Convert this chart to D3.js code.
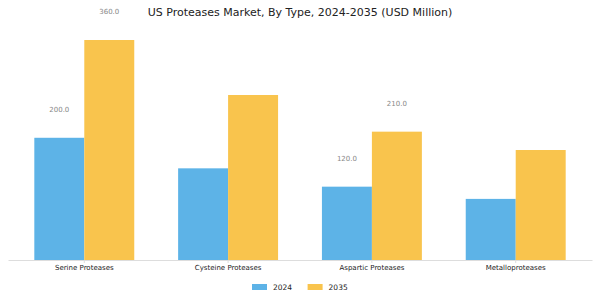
<!DOCTYPE html>
<html lang="en">

<head>
  <meta charset="utf-8">
  <title>US Proteases Market</title>
  <script src="https://d3js.org/d3.v7.min.js"></script>
  <style>
    body { margin: 0; background: #fff; }
    text { font-family: "DejaVu Sans", sans-serif; }
    .axis path, .axis line { stroke: #ddd; }
    .axis text { fill: #222; font-size: 7px; }
  </style>
</head>

<body>
  <script>
    var categories = ['Serine Proteases', 'Cysteine Proteases', 'Aspartic Proteases', 'Metalloproteases'];
    var years = ['2024', '2035'];
    var values2024 = [200, 150, 120, 100];
    var values2035 = [360, 270, 210, 180];
    // only some bars carry a value label in the original
    var labelled2024 = [true, false, true, false];
    var labelled2035 = [true, false, true, false];
    var colors = ['#5DB3E7', '#F9C44D'];

    var w = 600, h = 300;
    var baseY = 260, topY = 40;

    var rows = categories.map(function(c, i) {
      return {cat: c, vals: [
        {year: years[0], v: values2024[i], lab: labelled2024[i]},
        {year: years[1], v: values2035[i], lab: labelled2035[i]}
      ]};
    });

    var x0 = d3.scaleBand()
      .domain(categories)
      .range([8, 592])
      .paddingInner(0.305)
      .paddingOuter(0.183);
    var x1 = d3.scaleBand()
      .domain(years)
      .range([0, x0.bandwidth()]);
    var y = d3.scaleLinear()
      .domain([0, 360])
      .range([baseY, topY]);
    var color = d3.scaleOrdinal().domain(years).range(colors);

    var svg = d3.select('body').append('svg')
      .attr('width', w)
      .attr('height', h);

    svg.append('text')
      .attr('x', w / 2)
      .attr('y', 12)
      .attr('dy', '0.35em')
      .attr('text-anchor', 'middle')
      .style('font-size', '11px')
      .style('fill', '#222')
      .text('US Proteases Market, By Type, 2024-2035 (USD Million)');

    var groups = svg.selectAll('.grp')
      .data(rows)
    .enter().append('g')
      .attr('class', 'grp')
      .attr('transform', function(d) { return 'translate(' + x0(d.cat) + ',0)'; });

    groups.selectAll('rect')
      .data(function(d) { return d.vals; })
    .enter().append('rect')
      .attr('x', function(d) { return x1(d.year); })
      .attr('width', x1.bandwidth())
      .attr('y', function(d) { return y(d.v); })
      .attr('height', function(d) { return y(0) - y(d.v); })
      .attr('fill', function(d) { return color(d.year); });

    groups.selectAll('.val')
      .data(function(d) { return d.vals.filter(function(v) { return v.lab; }); })
    .enter().append('text')
      .attr('class', 'val')
      .attr('x', function(d) { return x1(d.year) + x1.bandwidth() / 2; })
      .attr('y', function(d) { return y(d.v) - 28; })
      .attr('dy', '0.35em')
      .attr('text-anchor', 'middle')
      .style('font-size', '7px')
      .style('fill', '#888')
      .text(function(d) { return d.v.toFixed(1); });

    svg.append('g')
      .attr('class', 'x axis')
      .attr('transform', 'translate(0,' + baseY + ')')
      .call(d3.axisBottom(x0).tickSize(3).tickSizeOuter(0).tickPadding(2))
      .call(function(g) { g.selectAll('.tick line').attr('stroke', '#555'); });

    var legend = svg.append('g')
      .attr('transform', 'translate(252,287)');
    var item = legend.selectAll('g')
      .data(years)
    .enter().append('g')
      .attr('transform', function(d, i) { return 'translate(' + (i * 55.6) + ',0)'; });
    item.append('rect')
      .attr('y', -3)
      .attr('width', 15)
      .attr('height', 6)
      .attr('fill', function(d) { return color(d); });
    item.append('text')
      .attr('x', 21)
      .attr('dy', '0.35em')
      .style('font-size', '7.5px')
      .style('fill', '#222')
      .text(function(d) { return d; });
  </script>
</body>

</html>
